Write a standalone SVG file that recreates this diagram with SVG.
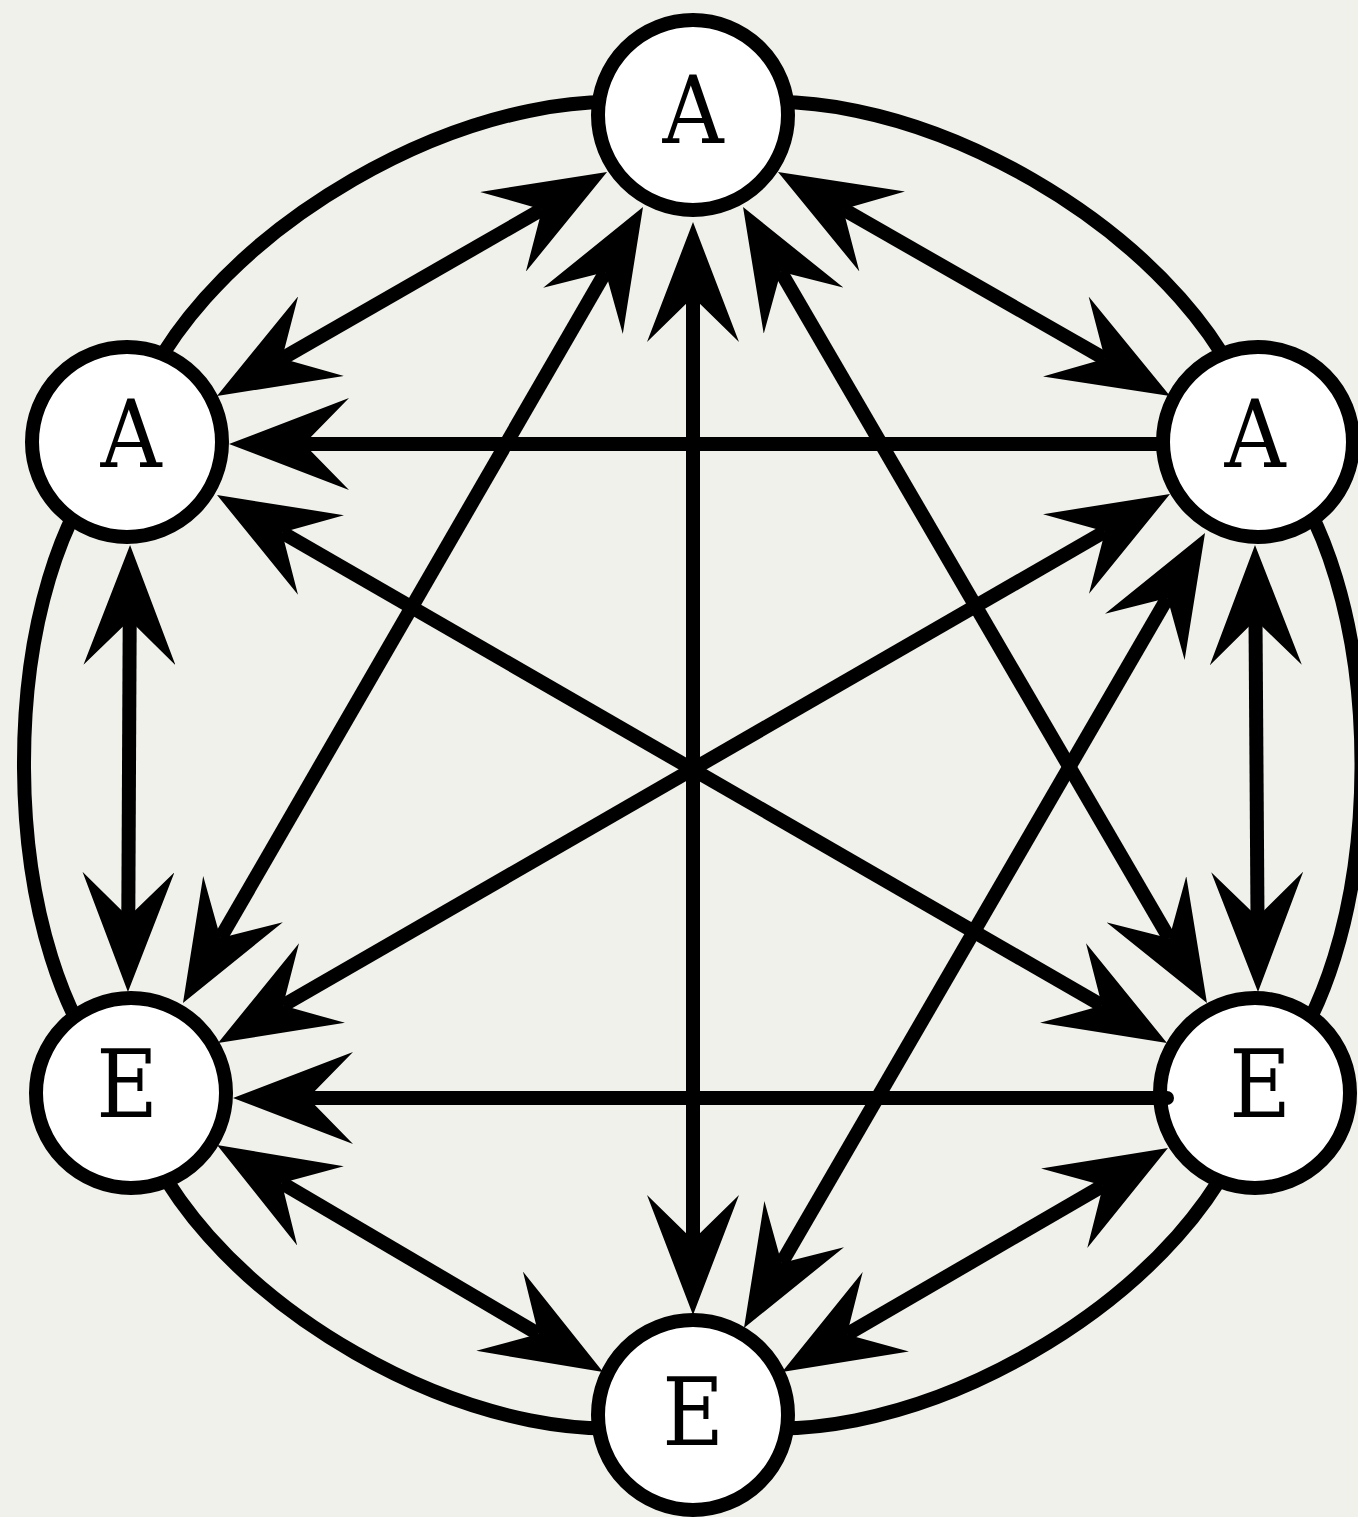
<svg xmlns="http://www.w3.org/2000/svg" width="1358" height="1517" viewBox="0 0 1358 1517">
<defs>
<style>
.ring{fill:none;stroke:#000;stroke-width:14}
.node circle{fill:#fff;stroke:#000;stroke-width:14}
.node text{font-family:"DejaVu Serif Condensed","DejaVu Serif","Liberation Serif",serif;font-size:94px;fill:#000;text-anchor:middle}
.edge{fill:none;stroke:#000;stroke-width:14}
.both{marker-start:url(#ah);marker-end:url(#ah)}
.one{marker-end:url(#ah)}
</style>
<marker id="ah" viewBox="0 0 120 92" refX="45" refY="46" markerWidth="120" markerHeight="92" markerUnits="userSpaceOnUse" orient="auto-start-reverse">
<path d="M0,0 L120,46 L0,92 L45,46 Z" fill="#000"/>
</marker>
</defs>
<rect width="1358" height="1517" fill="#f0f1eb"/>
<g id="ring">
<path class="ring" d="M693,115 C884.2,50 1219,243.8 1258,442 C1397.4,564.6 1395.6,971.6 1255,1093 C1215.2,1291 884,1480.8 693,1415 C502,1480.8 170.8,1291 131,1093 C-9.75,971.9 -12.25,564.9 127,442 C166.2,243.9 501.8,49.9 693,115 Z"/>
</g>
<g id="node-top-A" class="node"><circle cx="693" cy="115" r="95"/><text x="693" y="143">A</text></g>
<g id="node-left-A" class="node"><circle cx="127" cy="442" r="95"/><text x="131" y="467">A</text></g>
<g id="node-right-A" class="node"><circle cx="1258" cy="442" r="95"/><text x="1255" y="467">A</text></g>
<g id="node-left-E" class="node"><circle cx="131" cy="1093" r="95"/><text x="127" y="1117">E</text></g>
<g id="node-right-E" class="node"><circle cx="1255" cy="1093" r="95"/><text x="1260" y="1117">E</text></g>
<g id="node-bottom-E" class="node"><circle cx="693" cy="1415" r="95"/><text x="693" y="1445">E</text></g>
<g id="connectors">
<path class="edge both" d="M542,209.4 L282,358.6"/>
<path class="edge both" d="M843.1,209.2 L1104.9,358.8"/>
<path class="edge both" d="M605.5,271.9 L220.5,938.1"/>
<path class="edge both" d="M693,297 L693,1240"/>
<path class="edge both" d="M780.8,271.8 L1169.2,938.2"/>
<path class="edge both" d="M129.7,620 L128.3,917"/>
<path class="edge one" d="M1157,444 L304,444"/>
<path class="edge both" d="M282,532.5 L1102,1005.5"/>
<path class="edge both" d="M1105,531.5 L283,1005.5"/>
<path class="edge both" d="M1255.5,620 L1257.5,917"/>
<path class="edge both" d="M1167.4,597.9 L781.6,1263.1"/>
<path class="edge one" d="M1167,1098 L308,1098" stroke-linecap="round"/>
<path class="edge both" d="M281.7,1183 L538.4,1334"/>
<path class="edge both" d="M1103.1,1185.6 L846.9,1334.4"/>
</g>
</svg>
